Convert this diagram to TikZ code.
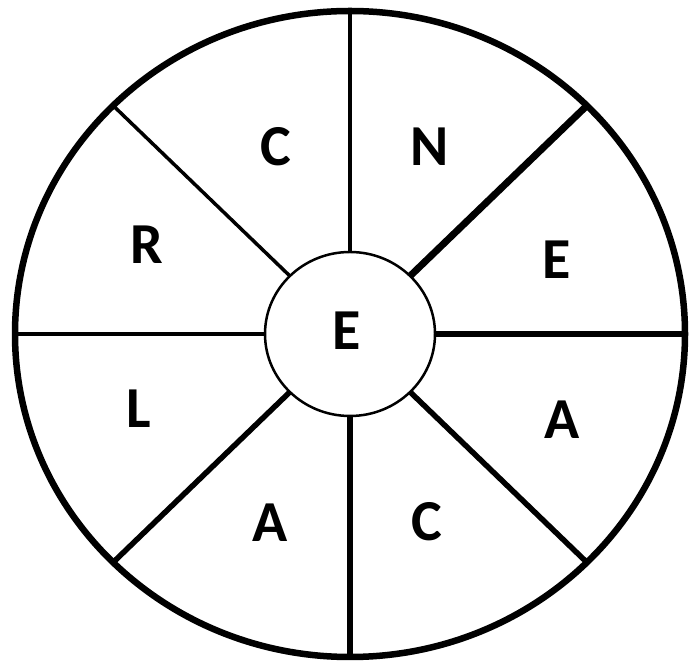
\documentclass[tikz,border=0pt]{standalone}
\usepackage{fontspec}
\setmainfont{Carlito}
\usetikzlibrary{calc}
\begin{document}
\begin{tikzpicture}[x=1pt,y=1pt,
  letter/.style={font=\bfseries\fontsize{58}{58}\selectfont, inner sep=0pt},
  spoke/.style={draw=black, line width=#1},
  spoke/.default=4pt]
\useasboundingbox (0,0) rectangle (698,663);
\coordinate (c) at (350,329);
% outer ellipse
\draw[line width=6.5pt] (c) ellipse [x radius=335, y radius=323];
% spoke endpoints
\foreach \a in {0,45,90,135,180,225,270,315}{
  \coordinate (o\a) at ($(c)+(\a:335 and 323)$);
  \coordinate (i\a) at ($(c)+(\a:85 and 82)$);
}
\draw[spoke=6.5pt] (i0) -- (o0);
\draw[spoke=7pt] (i45) -- (o45);
\draw[spoke=4.5pt] (i90) -- (o90);
\draw[spoke=3.5pt] (i135) -- (o135);
\draw[spoke=3.5pt] (i180) -- (o180);
\draw[spoke=5.5pt] (i225) -- (o225);
\draw[spoke=5.5pt] (i270) -- (o270);
\draw[spoke=5.5pt] (i315) -- (o315);
% inner circle
\draw[line width=2.5pt, fill=white] (c) ellipse [x radius=85, y radius=82];
% letters
\node[letter] (ctr) at (346.5,332) {E};
\node[letter] (l1) at (276,516.5) {C};
\node[letter] (l2) at (430,516.5) {N};
\node[letter] (l3) at (147,418) {R};
\node[letter] (l4) at (557,403) {E};
\node[letter] (l5) at (139,254.5) {L};
\node[letter] (l6) at (562,243) {A};
\node[letter] (l7) at (270,140.5) {A};
\node[letter] (l8) at (427,141) {C};
\end{tikzpicture}
\end{document}
